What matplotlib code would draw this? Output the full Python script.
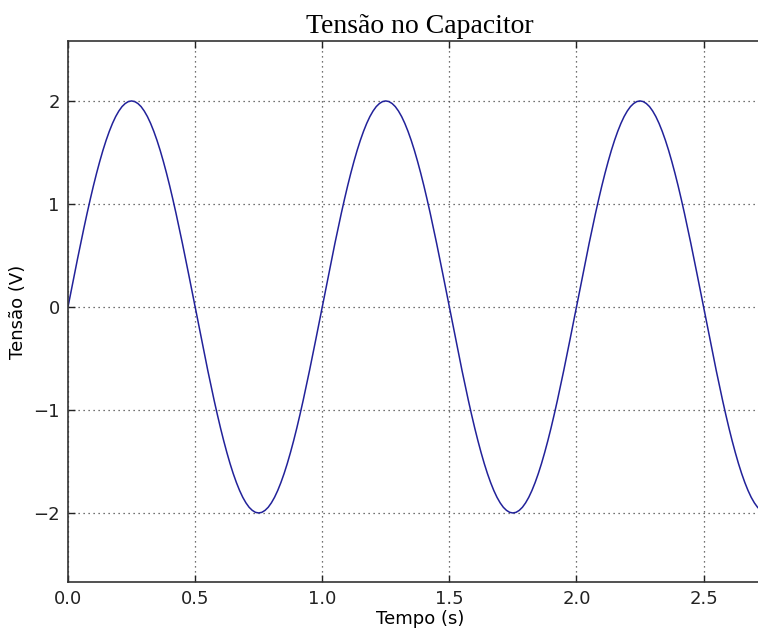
import numpy as np
import matplotlib
matplotlib.use("Agg")
import matplotlib.pyplot as plt

# tensão, amostras a cada 0.0125 s
passo = 0.0125
tensao = [
    0.000, 0.157, 0.313, 0.467, 0.618, 0.765, 0.908, 1.045, 1.176, 1.299,
    1.414, 1.521, 1.618, 1.705, 1.782, 1.848, 1.902, 1.945, 1.975, 1.994,
    2.000, 1.994, 1.975, 1.945, 1.902, 1.848, 1.782, 1.705, 1.618, 1.521,
    1.414, 1.299, 1.176, 1.045, 0.908, 0.765, 0.618, 0.467, 0.313, 0.157,
    0.000, -0.157, -0.313, -0.467, -0.618, -0.765, -0.908, -1.045, -1.176, -1.299,
    -1.414, -1.521, -1.618, -1.705, -1.782, -1.848, -1.902, -1.945, -1.975, -1.994,
    -2.000, -1.994, -1.975, -1.945, -1.902, -1.848, -1.782, -1.705, -1.618, -1.521,
    -1.414, -1.299, -1.176, -1.045, -0.908, -0.765, -0.618, -0.467, -0.313, -0.157,
    0.000, 0.157, 0.313, 0.467, 0.618, 0.765, 0.908, 1.045, 1.176, 1.299,
    1.414, 1.521, 1.618, 1.705, 1.782, 1.848, 1.902, 1.945, 1.975, 1.994,
    2.000, 1.994, 1.975, 1.945, 1.902, 1.848, 1.782, 1.705, 1.618, 1.521,
    1.414, 1.299, 1.176, 1.045, 0.908, 0.765, 0.618, 0.467, 0.313, 0.157,
    0.000, -0.157, -0.313, -0.467, -0.618, -0.765, -0.908, -1.045, -1.176, -1.299,
    -1.414, -1.521, -1.618, -1.705, -1.782, -1.848, -1.902, -1.945, -1.975, -1.994,
    -2.000, -1.994, -1.975, -1.945, -1.902, -1.848, -1.782, -1.705, -1.618, -1.521,
    -1.414, -1.299, -1.176, -1.045, -0.908, -0.765, -0.618, -0.467, -0.313, -0.157,
    0.000, 0.157, 0.313, 0.467, 0.618, 0.765, 0.908, 1.045, 1.176, 1.299,
    1.414, 1.521, 1.618, 1.705, 1.782, 1.848, 1.902, 1.945, 1.975, 1.994,
    2.000, 1.994, 1.975, 1.945, 1.902, 1.848, 1.782, 1.705, 1.618, 1.521,
    1.414, 1.299, 1.176, 1.045, 0.908, 0.765, 0.618, 0.467, 0.313, 0.157,
    0.000, -0.157, -0.313, -0.467, -0.618, -0.765, -0.908, -1.045, -1.176, -1.299,
    -1.414, -1.521, -1.618, -1.705, -1.782, -1.848, -1.902, -1.945, -1.975, -1.994,
    -2.000, -1.994, -1.975,
]
tempo = np.arange(len(tensao)) * passo

xticks = [0.0, 0.5, 1.0, 1.5, 2.0, 2.5]
yticks = [-2, -1, 0, 1, 2]


def main():
    plt.rcParams["font.family"] = ["DejaVu Sans"]

    fig = plt.figure(figsize=(7.58, 6.31), dpi=100)
    fig.patch.set_facecolor("white")
    # o eixo passa da borda direita (imagem original recortada)
    ax = fig.add_axes([0.0897, 0.0777, 0.929, 0.857])

    ax.plot(tempo, tensao, color="#22229a", linewidth=1.1)

    ax.set_xlim(0, 2.77)
    ax.set_ylim(-2.67, 2.58)
    ax.set_xticks(xticks)
    ax.set_xticklabels(["%.1f" % t for t in xticks])
    ax.set_yticks(yticks)
    ax.set_yticklabels(["\u2212%d" % -v if v < 0 else "%d" % v for v in yticks])

    ax.grid(True, color="#444444", linestyle=(0, (1, 3)), linewidth=0.9)
    ax.tick_params(direction="in", length=5, width=1, top=True, right=True,
                   labelsize=13, colors="#222222", pad=6)
    for s in ax.spines.values():
        s.set_linewidth(1.2)
        s.set_color("#333333")

    ax.set_title("Tensão no Capacitor", family="Liberation Serif", fontsize=20, pad=6)
    ax.set_xlabel("Tempo (s)", fontsize=13, labelpad=1)
    ax.set_ylabel("Tensão (V)", fontsize=13, labelpad=4)

    fig.savefig("out.png", dpi=100, facecolor="white")


if __name__ == "__main__":
    main()
